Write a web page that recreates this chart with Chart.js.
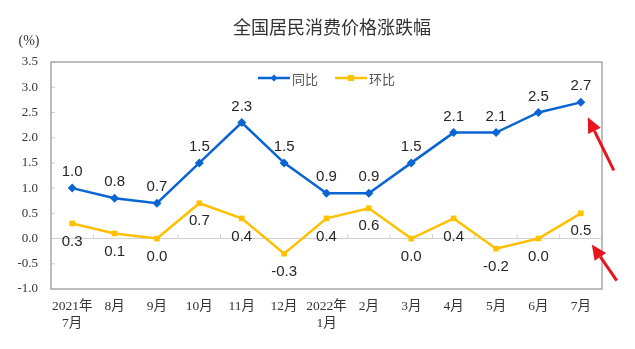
<!DOCTYPE html>
<html>
<head>
<meta charset="utf-8">
<script src="https://cdn.jsdelivr.net/npm/chart.js@4.4.1/dist/chart.umd.min.js"></script>
<style>
  body { margin: 0; background: #fff; }
  #wrap { width: 635px; height: 349px; }
</style>
</head>
<body>
<div id="wrap"><canvas id="cpi" width="635" height="349"></canvas></div>
<script>
const months = [
  ["2021年", "7月"], "8月", "9月", "10月", "11月", "12月",
  ["2022年", "1月"], "2月", "3月", "4月", "5月", "6月", "7月",
];
const yoy = [1.0, 0.8, 0.7, 1.5, 2.3, 1.5, 0.9, 0.9, 1.5, 2.1, 2.1, 2.5, 2.7];
const mom = [0.3, 0.1, 0.0, 0.7, 0.4, -0.3, 0.4, 0.6, 0.0, 0.4, -0.2, 0.0, 0.5];
const yTicks = [-1.0, -0.5, 0.0, 0.5, 1.0, 1.5, 2.0, 2.5, 3.0, 3.5];

const BLUE = "#0a64d2";
const YELLOW = "#ffc000";
const SERIF = "'Liberation Serif', 'Noto Sans CJK SC', serif";
const SANS = "'Liberation Sans', Arial, sans-serif";

// frame, axis line, titles, legend, value labels and arrows
const decor = {
  id: "decor",
  beforeDatasetsDraw(chart) {
    const { ctx, chartArea: a, scales } = chart;
    const y0 = scales.y.getPixelForValue(0);
    ctx.save();
    ctx.strokeStyle = "#cfcfcf";
    ctx.lineWidth = 1;
    ctx.beginPath();
    ctx.moveTo(a.left, y0);
    ctx.lineTo(a.right, y0);
    for (let i = 1; i < months.length; i++) {
      const x = (scales.x.getPixelForValue(i - 1) + scales.x.getPixelForValue(i)) / 2;
      ctx.moveTo(x, y0);
      ctx.lineTo(x, y0 - 4);
    }
    yTicks.forEach((v) => {
      const y = scales.y.getPixelForValue(v);
      ctx.moveTo(a.left, y);
      ctx.lineTo(a.left + 4, y);
    });
    ctx.stroke();
    ctx.strokeStyle = "#a8a8a8";
    ctx.lineWidth = 1.5;
    ctx.strokeRect(a.left, a.top, a.right - a.left, a.bottom - a.top);
    ctx.restore();
  },
  afterDatasetsDraw(chart) {
    const { ctx, scales } = chart;
    ctx.save();

    // title and unit
    ctx.fillStyle = "#333";
    ctx.textAlign = "center";
    ctx.textBaseline = "middle";
    ctx.font = "18px 'Noto Sans CJK SC', sans-serif";
    ctx.fillText("全国居民消费价格涨跌幅", 332, 27);
    ctx.font = "14px " + SERIF;
    ctx.fillText("(%)", 29, 41);

    // legend
    const items = [
      { ds: chart.data.datasets[0], x: 258 },
      { ds: chart.data.datasets[1], x: 335 },
    ];
    ctx.font = "13px 'Noto Sans CJK SC', sans-serif";
    items.forEach(({ ds, x }) => {
      const ly = 78;
      ctx.strokeStyle = ds.borderColor;
      ctx.lineWidth = 2.5;
      ctx.beginPath();
      ctx.moveTo(x, ly);
      ctx.lineTo(x + 32, ly);
      ctx.stroke();
      ctx.fillStyle = ds.borderColor;
      ctx.beginPath();
      if (ds.pointStyle === "rectRot") {
        ctx.moveTo(x + 16, ly - 3.5);
        ctx.lineTo(x + 19.5, ly);
        ctx.lineTo(x + 16, ly + 3.5);
        ctx.lineTo(x + 12.5, ly);
      } else {
        ctx.rect(x + 13, ly - 3, 6, 6);
      }
      ctx.fill();
      ctx.fillStyle = "#555";
      ctx.textAlign = "left";
      ctx.fillText(ds.label, x + 34, ly + 1);
    });

    // value labels
    ctx.fillStyle = "#262626";
    ctx.textAlign = "center";
    ctx.font = "15px " + SANS;
    chart.data.datasets.forEach((ds, di) => {
      const meta = chart.getDatasetMeta(di);
      meta.data.forEach((pt, i) => {
        const dy = di === 0 ? -16 : 18;
        ctx.fillText(ds.data[i].toFixed(1), pt.x, pt.y + dy);
      });
    });

    // red arrows
    const last = months.length - 1;
    const p1 = chart.getDatasetMeta(0).data[last];
    const lastX = scales.x.getPixelForValue(last);
    const y0 = scales.y.getPixelForValue(0);
    const arrows = [
      [p1.x + 33, p1.y + 68, p1.x + 7, p1.y + 15],
      [lastX + 36, y0 + 42, lastX + 11, y0 + 6],
    ];
    ctx.strokeStyle = "#e8141e";
    ctx.fillStyle = "#e8141e";
    ctx.lineWidth = 3;
    arrows.forEach(([x1, y1, x2, y2]) => {
      const ang = Math.atan2(y2 - y1, x2 - x1);
      const hl = 15, hw = 7;
      const bx = x2 - hl * Math.cos(ang);
      const by = y2 - hl * Math.sin(ang);
      ctx.beginPath();
      ctx.moveTo(x1, y1);
      ctx.lineTo(bx, by);
      ctx.stroke();
      ctx.beginPath();
      ctx.moveTo(x2, y2);
      ctx.lineTo(bx + hw * Math.sin(ang), by - hw * Math.cos(ang));
      ctx.lineTo(bx - hw * Math.sin(ang), by + hw * Math.cos(ang));
      ctx.closePath();
      ctx.fill();
    });
    ctx.restore();
  },
};

new Chart(document.getElementById("cpi"), {
  type: "line",
  data: {
    labels: months,
    datasets: [
      {
        label: "同比",
        data: yoy,
        borderColor: BLUE,
        backgroundColor: BLUE,
        borderWidth: 2.5,
        pointStyle: "rectRot",
        pointRadius: 4.5,
        pointBorderWidth: 0,
        tension: 0,
      },
      {
        label: "环比",
        data: mom,
        borderColor: YELLOW,
        backgroundColor: YELLOW,
        borderWidth: 2.5,
        pointStyle: "rect",
        pointRadius: 4,
        pointBorderWidth: 0,
        tension: 0,
      },
    ],
  },
  options: {
    responsive: false,
    animation: false,
    layout: { padding: { top: 62, right: 33, left: 0, bottom: 0 } },
    plugins: {
      legend: { display: false },
      title: { display: false },
      tooltip: { enabled: false },
    },
    scales: {
      x: {
        offset: true,
        grid: { display: false, drawTicks: false },
        border: { display: false },
        ticks: {
          color: "#333",
          padding: 9,
          maxRotation: 0,
          autoSkip: false,
          font: { family: SERIF, size: 13.5, lineHeight: 1.25 },
        },
        afterFit: (s) => { s.height = 60; },
      },
      y: {
        min: -1,
        max: 3.5,
        grid: { display: false, drawTicks: false },
        border: { display: false },
        ticks: {
          stepSize: 0.5,
          color: "#333",
          padding: 13,
          font: { family: SERIF, size: 13 },
          callback: (v) => Number(v).toFixed(1),
        },
        afterFit: (s) => { s.width = 51; },
      },
    },
  },
  plugins: [decor],
});
</script>
</body>
</html>
